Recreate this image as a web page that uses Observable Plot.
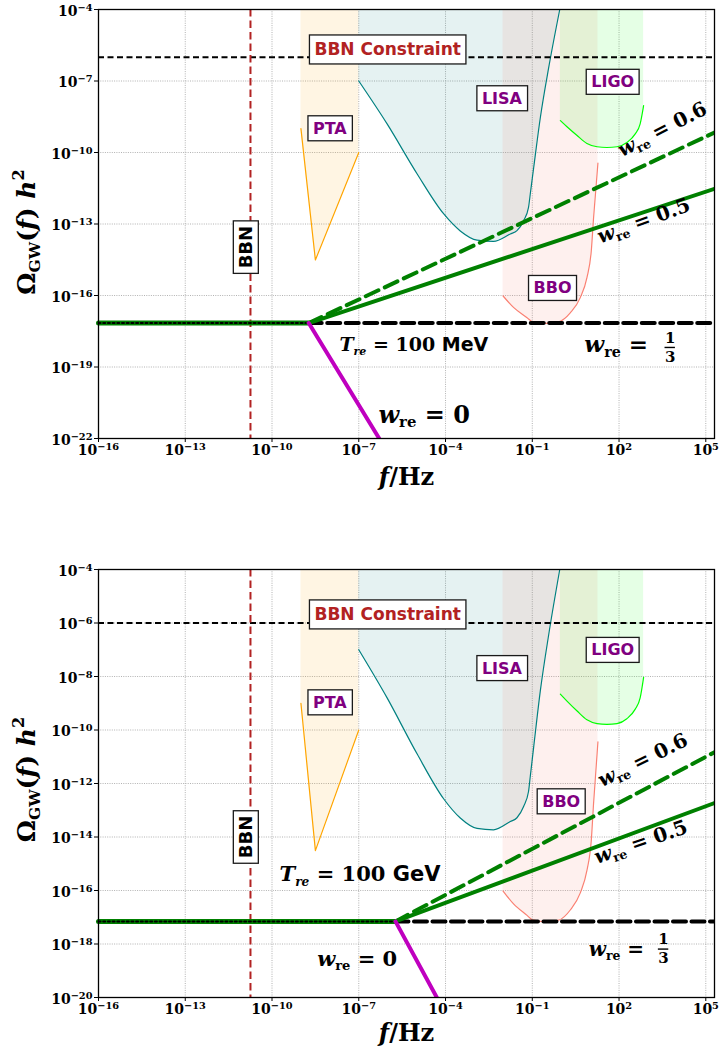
<!DOCTYPE html>
<html>
<head>
<meta charset="utf-8">
<script src="https://cdn.jsdelivr.net/npm/d3@7"></script>
<script src="https://cdn.jsdelivr.net/npm/@observablehq/plot@0.6"></script>
<style>
html, body { margin: 0; padding: 0; background: #fff; overflow: hidden; }
#chart { width: 719px; height: 1057px; }
#chart svg { display: block; max-width: none; }
</style>
</head>
<body>
<div id="chart"></div>
<script>
// ---------------- axes ----------------
const xTickExponents = [-16, -13, -10, -7, -4, -1, 2, 5];
const yTickExponentsTop = [-22, -19, -16, -13, -10, -7, -4];
const yTickExponentsBottom = [-20, -18, -16, -14, -12, -10, -8, -6, -4];
const xDomain = [1e-16, 2e5];
const yDomainTop = [1e-22, 1e-4];
const yDomainBottom = [1e-20, 1e-4];

// ------------- detector sensitivity curves (log10 f/Hz, log10 Ω h²) -------------
const ptaLogF = [-9, -8.5, -7];
const ptaLogOmega = [-9, -14.51, -10];
const lisaLogF = [-7.0, -6.02, -4.98, -4.06, -3.49, -2.91, -2.34, -1.76, -1.53, -1.30, -1.13, -1.07, -0.95, -0.72, -0.43, -0.05];
const lisaLogOmega = [-7.0, -8.80, -10.90, -12.58, -13.29, -13.68, -13.73, -13.42, -13.28, -12.86, -12.30, -11.74, -10.62, -8.52, -6.42, -4.0];
const bboLogF = [-2.01, -1.64, -1.18, -0.99, -0.49, -0.09, 0.32, 0.66, 0.89, 1.04, 1.12, 1.27];
const bboLogOmega = [-16.02, -16.51, -16.93, -17.10, -17.17, -17.11, -16.72, -16.09, -15.25, -14.13, -12.73, -10.44];
const ligoLogF = [-0.03, 0.20, 0.55, 0.89, 1.24, 1.58, 1.93, 2.27, 2.56, 2.73, 2.85];
const ligoLogOmega = [-8.66, -8.92, -9.29, -9.62, -9.76, -9.79, -9.76, -9.58, -9.22, -8.80, -8.03];

// ------------- constraints -------------
const bbnConstraint = 1e-6;
const bbnFrequency = 1.8e-11;
const plateauOmega = 7e-18;
const fMin = 1e-16, fMax = 2e5;

// ------------- reheating spectra: [f, Ω] end points -------------
const topBreak = [1.86e-9, plateauOmega];          // T_re = 100 MeV
const topW0End = [5.1e-7, 1e-22];
const topW05End = [2e5, 3.0e-12];
const topW06End = [2e5, 6.9e-10];
const bottomBreak = [1.86e-6, plateauOmega];       // T_re = 100 GeV
const bottomW0End = [5.0e-5, 1e-20];
const bottomW05End = [2e5, 1.86e-13];
const bottomW06End = [2e5, 1.48e-11];

// ------------- annotation texts and anchors (data space) -------------
const regionNames = ["PTA", "LISA", "LIGO", "BBO"];
const topRegionAnchors = [[1e-8, 1e-9], [10 ** -2.05, 10 ** -7.74], [10 ** 1.78, 10 ** -7.05], [10 ** -0.30, 10 ** -15.70]];
const bottomRegionAnchors = [[1e-8, 10 ** -8.98], [10 ** -2.05, 10 ** -7.70], [10 ** 1.78, 10 ** -7.02], [1, 10 ** -12.68]];
const bbnConstraintText = "BBN Constraint";
const bbnText = "BBN";
const topTreText = "*T*_[re] = 100 ~MeV~";
const bottomTreText = "*T*_[re] = 100 ~GeV~";
const w0Text = "*w*_{re} = 0";
const w13Text = "*w*_{re} =";
const fracNum = "1", fracDen = "3";
const w05Text = "*w*_{re} = 0.5";
const w06Text = "*w*_{re} = 0.6";
const yLabelText = "Ω_{GW}(*f*) *h*^{2}";
const xLabelText = "*f*/Hz";

const topAnchors = {
  bbnConstraint: [1e-6, 10 ** -5.70], bbn: [10 ** -10.88, 10 ** -13.97],
  tre: [10 ** -7.67, 10 ** -18.32], w0: [10 ** -6.32, 10 ** -21.33],
  w13: [10 ** 0.80, 10 ** -18.39], frac: [10 ** 3.77, 10 ** -18.18],
  w05: [10 ** 1.35, 10 ** -13.82], w06: [10 ** 2.10, 10 ** -10.2]
};
const bottomAnchors = {
  bbnConstraint: [1e-6, 10 ** -5.70], bbn: [10 ** -10.88, 10 ** -14.0],
  tre: [10 ** -9.74, 10 ** -15.66], w0: [10 ** -8.44, 10 ** -18.81],
  w13: [10 ** 0.95, 10 ** -18.44], frac: [10 ** 3.54, 10 ** -18.19],
  w05: [10 ** 1.24, 10 ** -15.01], w06: [10 ** 1.41, 10 ** -12.14]
};

// ---------------- helpers ----------------
const rows = (lf, lo) => lf.map((v, i) => ({f: 10 ** v, omega: 10 ** lo[i]}));
const pt = (p) => ({f: p[0], omega: p[1]});
const expFormat = (d) => { const e = Math.round(Math.log10(d)); return `10^{${e < 0 ? "\u2212" + (-e) : e}}`; };

function panel(cfg) {
  const A = cfg.anchors;
  const top = cfg.yDomain[1];
  const pta = rows(ptaLogF, ptaLogOmega), lisa = rows(lisaLogF, lisaLogOmega);
  const bbo = rows(bboLogF, bboLogOmega), ligo = rows(ligoLogF, ligoLogOmega);
  const brk = pt(cfg.brk);
  const xy = {x: "f", y: "omega"};
  const label = (text, anchor, opts) => Plot.text([{f: anchor[0], omega: anchor[1], t: text}], {...xy, text: "t", ...opts});
  const math = {fontFamily: "DejaVu Serif", fontWeight: "bold", fill: "black", textAnchor: "start", lineAnchor: "bottom"};
  const xTicks = xTickExponents.map(e => 10 ** e);
  const yTicks = cfg.yTickExponents.map(e => 10 ** e);
  const grid = {stroke: "#a9a9a9", strokeWidth: 0.9, strokeDasharray: "1,1.3"};
  const frac = pt(A.frac);
  return Plot.plot({
    width: 719, height: cfg.height,
    marginLeft: 98, marginRight: 5, marginTop: cfg.marginTop, marginBottom: cfg.marginBottom,
    style: {fontFamily: "DejaVu Serif", fontSize: "14px", fontWeight: "bold", background: "white", color: "black", overflow: "visible"},
    x: {type: "log", domain: xDomain, ticks: xTicks, tickFormat: expFormat, tickSize: 4, tickPadding: 3, label: null},
    y: {type: "log", domain: cfg.yDomain, ticks: yTicks, tickFormat: expFormat, tickSize: 4, tickPadding: 2, label: null},
    marks: [
      Plot.ruleX(xTicks, grid),
      Plot.ruleY(yTicks, grid),
      Plot.areaY(pta, {...xy, y1: "omega", y2: () => top, fill: "orange", fillOpacity: 0.11}),
      Plot.areaY(lisa, {...xy, y1: "omega", y2: () => top, fill: "teal", fillOpacity: 0.1, curve: "monotone-x"}),
      Plot.areaY(bbo, {...xy, y1: "omega", y2: () => top, fill: "salmon", fillOpacity: 0.12, curve: "monotone-x"}),
      Plot.areaY(ligo, {...xy, y1: "omega", y2: () => top, fill: "lime", fillOpacity: 0.1, curve: "monotone-x"}),
      Plot.line(pta, {...xy, stroke: "orange", strokeWidth: 1.2}),
      Plot.line(lisa, {...xy, stroke: "teal", strokeWidth: 1.2, curve: "monotone-x"}),
      Plot.line(bbo, {...xy, stroke: "salmon", strokeWidth: 1.2, curve: "monotone-x"}),
      Plot.line(ligo, {...xy, stroke: "lime", strokeWidth: 1.2, curve: "monotone-x"}),
      Plot.ruleY([bbnConstraint], {stroke: "black", strokeWidth: 2, strokeDasharray: "6,3.5"}),
      Plot.ruleX([bbnFrequency], {stroke: "#b22222", strokeWidth: 2, strokeDasharray: "7.5,4"}),
      // reheating spectra
      Plot.line([pt([fMin, plateauOmega]), brk], {...xy, stroke: "green", strokeWidth: 5}),
      Plot.line([pt([fMin, plateauOmega]), brk], {...xy, stroke: "black", strokeWidth: 2, strokeDasharray: "2,2.7"}),
      Plot.line([brk, pt([fMax, plateauOmega])], {...xy, stroke: "black", strokeWidth: 4, strokeDasharray: "13,5.5", clip: true}),
      Plot.line([brk, pt(cfg.w06End)], {...xy, stroke: "green", strokeWidth: 4, strokeDasharray: "14,7", clip: true}),
      Plot.line([brk, pt(cfg.w05End)], {...xy, stroke: "green", strokeWidth: 4, clip: true}),
      Plot.line([brk, pt(cfg.w0End)], {...xy, stroke: "#bf00bf", strokeWidth: 4, clip: true}),
      // boxed labels
      Plot.text(regionNames.map((n, i) => ({f: cfg.regions[i][0], omega: cfg.regions[i][1], t: n})),
        {...xy, text: "t", fill: "purple", fontFamily: "DejaVu Sans", fontWeight: "bold", fontSize: 16}),
      label(bbnConstraintText, A.bbnConstraint, {fill: "#b22222", fontFamily: "DejaVu Sans", fontWeight: "bold", fontSize: 17}),
      label(bbnText, A.bbn, {fill: "black", fontFamily: "DejaVu Sans", fontWeight: "bold", fontSize: 18, rotate: -90}),
      // math labels
      label(cfg.treText, A.tre, {...math, fontSize: cfg.treSize}),
      label(w0Text, A.w0, {...math, fontSize: cfg.w0Size}),
      label(w13Text, A.w13, {...math, fontSize: cfg.w13Size}),
      label(fracNum, A.frac, {...math, textAnchor: "middle", lineAnchor: "middle", fontSize: 15, dy: -9.5}),
      label(fracDen, A.frac, {...math, textAnchor: "middle", lineAnchor: "middle", fontSize: 15, dy: 9.5}),
      Plot.ruleY([frac], {y: "omega", x1: d => d.f / 10 ** 0.18, x2: d => d.f * 10 ** 0.18, stroke: "black", strokeWidth: 1.4}),
      label(w05Text, A.w05, {...math, fontSize: cfg.w05Size, rotate: cfg.w05Rot}),
      label(w06Text, A.w06, {...math, fontSize: cfg.w06Size, rotate: cfg.w06Rot}),
      // axis titles
      Plot.text([yLabelText], {text: d => d, frameAnchor: "left", dx: -64, dy: cfg.yLabelDy, rotate: -90, textAnchor: "middle", lineAnchor: "bottom", fontFamily: "DejaVu Serif", fontWeight: "bold", fontSize: 25}),
      Plot.text([xLabelText], {text: d => d, frameAnchor: "bottom", dy: cfg.xLabelDy, textAnchor: "middle", lineAnchor: "bottom", fontFamily: "DejaVu Serif", fontWeight: "bold", fontSize: 24}),
      Plot.frame({stroke: "black", strokeWidth: 1.3})
    ]
  });
}

const NS = "http://www.w3.org/2000/svg";
function richify(svg) {
  svg.querySelectorAll("text").forEach(t => {
    const s = t.textContent;
    if (!/[\*~]|[_^][\{\[]/.test(s)) return;
    const base = parseFloat(getComputedStyle(t).fontSize);
    const isY = !!t.closest('[aria-label*="y-axis"]');
    const isX = !!t.closest('[aria-label*="x-axis"]');
    const isTick = isX || isY;
    const baseShift = isY ? 2 : 0;
    t.textContent = "";
    t.style.whiteSpace = "pre";
    const re = /\*([^*]+)\*|_\{([^}]*)\}|_\[([^\]]*)\]|\^\{([^}]*)\}|~([^~]+)~|([^*~_^]+|[_^])/g;
    let cur = 0, m;
    while ((m = re.exec(s))) {
      const sp = document.createElementNS(NS, "tspan");
      let text, target = baseShift, scale = 1, italic = false, sans = false;
      if (m[1] != null) { text = m[1]; italic = true; }
      else if (m[2] != null) { text = m[2]; scale = 0.62; target += 0.2 * base; }
      else if (m[3] != null) { text = m[3]; scale = 0.58; target += 0.24 * base; italic = true; }
      else if (m[4] != null) { text = m[4]; scale = isTick ? 0.7 : 0.65; target -= (isTick ? 0.36 : 0.42) * base; }
      else if (m[5] != null) { text = m[5]; sans = true; }
      else text = m[6];
      const dy = target - cur; cur = target;
      if (dy) sp.setAttribute("dy", dy.toFixed(2));
      if (scale !== 1) sp.setAttribute("font-size", (base * scale).toFixed(2));
      if (italic) sp.setAttribute("font-style", "italic");
      if (sans) sp.setAttribute("font-family", "DejaVu Sans");
      sp.textContent = text;
      t.appendChild(sp);
    }
  });
}
function boxes(svg) {
  svg.querySelectorAll("text").forEach(t => {
    const s = t.textContent;
    let pad = null;
    if (regionNames.includes(s)) pad = [5, 3];
    else if (s === bbnConstraintText) pad = [5, 4.5];
    else if (s === bbnText) pad = [5, 2];
    if (!pad) return;
    const bb = t.getBBox();
    const r = document.createElementNS(NS, "rect");
    r.setAttribute("x", bb.x - pad[0]);
    r.setAttribute("y", bb.y - pad[1]);
    r.setAttribute("width", bb.width + 2 * pad[0]);
    r.setAttribute("height", bb.height + 2 * pad[1]);
    const tr = t.getAttribute("transform");
    if (tr) r.setAttribute("transform", tr);
    r.setAttribute("fill", "white");
    r.setAttribute("stroke", "#1a1a1a");
    r.setAttribute("stroke-width", 1.3);
    t.parentNode.insertBefore(r, t);
  });
}

const chart = document.getElementById("chart");
const topSvg = panel({
  height: 530, marginTop: 9, marginBottom: 92, yDomain: yDomainTop, yTickExponents: yTickExponentsTop,
  brk: topBreak, w0End: topW0End, w05End: topW05End, w06End: topW06End,
  regions: topRegionAnchors, anchors: topAnchors, treText: topTreText,
  treSize: 19, w0Size: 24, w13Size: 23, w05Size: 20, w06Size: 20, w05Rot: -20, w06Rot: -27,
  yLabelDy: 8, xLabelDy: 46
});
const bottomSvg = panel({
  height: 527, marginTop: 39, marginBottom: 60, yDomain: yDomainBottom, yTickExponents: yTickExponentsBottom,
  brk: bottomBreak, w0End: bottomW0End, w05End: bottomW05End, w06End: bottomW06End,
  regions: bottomRegionAnchors, anchors: bottomAnchors, treText: bottomTreText,
  treSize: 21, w0Size: 21, w13Size: 20, w05Size: 20, w06Size: 20, w05Rot: -19, w06Rot: -26,
  yLabelDy: -4, xLabelDy: 43
});
chart.appendChild(topSvg);
chart.appendChild(bottomSvg);
for (const svg of [topSvg, bottomSvg]) {
  richify(svg);
  boxes(svg);
}
</script>
</body>
</html>
